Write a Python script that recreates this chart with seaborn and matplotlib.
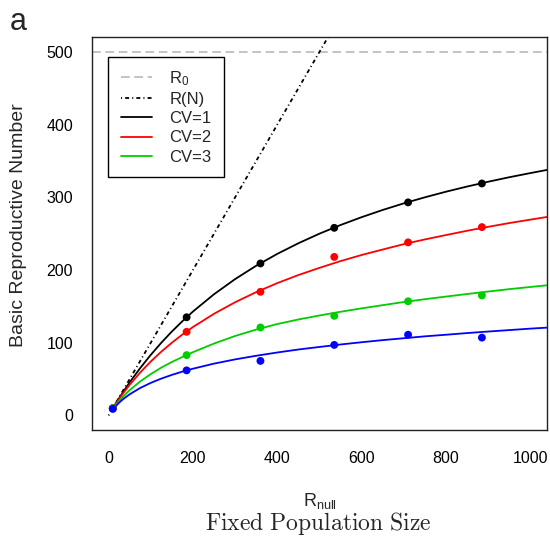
import numpy as np
import pandas as pd
import matplotlib
matplotlib.use("Agg")
import matplotlib.pyplot as plt
import seaborn as sns
from matplotlib.lines import Line2D

# ---------------- data ----------------
point_x = [10, 185, 360, 535, 710, 885]
pts_cv1 = [10, 135, 209, 258, 293, 319]
pts_cv2 = [10, 115, 170, 218, 238, 259]
pts_cv3 = [10, 83, 121, 137, 157, 165]
pts_blue = [9, 62, 75, 97, 111, 107]

curve_x = [10, 25, 35, 50, 75, 100, 125, 150, 175, 200, 250, 300, 350, 400, 450,
           500, 550, 600, 650, 700, 750, 800, 850, 900, 950, 1000, 1040]
curve_cv1 = [9.8, 23.8, 32.7, 45.5, 65.2, 83.3, 100, 115.4, 129.6, 142.9, 166.7, 187.5, 205.9, 222.2,
             236.8, 250, 261.9, 272.7, 282.6, 291.7, 300, 307.7, 314.8, 321.4, 327.6, 333.3, 337.7]
curve_cv2 = [9.6, 22.7, 30.8, 42.1, 59.1, 74.2, 87.7, 100, 111.3, 121.6, 139.8, 155.7, 169.6, 182,
             193.1, 203, 212.3, 220.7, 228.2, 235.6, 242.1, 248.1, 254.0, 259.4, 264.6, 269.3, 273]
curve_cv3 = [8.9, 20.0, 26.3, 34.8, 46.8, 56.9, 65.8, 73.5, 80.4, 87.0, 98.9, 109.3, 118.1, 125.7,
             132.0, 137.5, 142.6, 147.3, 151.7, 156.0, 159.9, 163.5, 167.0, 170.4, 173.7, 176.7, 179.0]
curve_blue = [8.3, 17.6, 22.7, 29.1, 37.8, 44.8, 50.7, 55.8, 60.3, 64.3, 71.3, 77.1, 82.1, 86.6,
              90.7, 94.2, 97.6, 100.7, 103.6, 106.2, 108.8, 111.0, 113.3, 115.4, 117.4, 119.4, 120.8]

rn_x = [0, 1040]
rn_y = [0, 1040]
r0_value = 500

series_names = ["CV=1", "CV=2", "CV=3", "blue"]
series_colors = ["#000000", "#FF0000", "#00CD00", "#0000FF"]
legend_labels = ["R$_0$", "R(N)", "CV=1", "CV=2", "CV=3"]
x_ticks = [0, 200, 400, 600, 800, 1000]
y_ticks = [0, 100, 200, 300, 400, 500]

# ---------------- tables ----------------
curve_df = pd.concat([
    pd.DataFrame({"x": curve_x, "y": ys, "series": name})
    for name, ys in zip(series_names, [curve_cv1, curve_cv2, curve_cv3, curve_blue])
])
pts_df = pd.concat([
    pd.DataFrame({"x": point_x, "y": ys, "series": name})
    for name, ys in zip(series_names, [pts_cv1, pts_cv2, pts_cv3, pts_blue])
])
palette = dict(zip(series_names, series_colors))

# ---------------- style ----------------
sns.set_theme(style="white")
plt.rcParams["font.family"] = ["Liberation Sans", "DejaVu Sans"]
plt.rcParams["mathtext.fontset"] = "custom"
plt.rcParams["mathtext.rm"] = "Liberation Sans"
plt.rcParams["mathtext.it"] = "Liberation Sans:italic"

W, H = 550, 537
fig = plt.figure(figsize=(W / 100, H / 100), dpi=100)
ax = fig.add_axes([91.7 / W, 1 - 430 / H, (547.3 - 91.7) / W, (430 - 37.3) / H])

LW = 1.3
gray = "#BEBEBE"
dash = (0, (4.8, 2.6))
dotdash = (0, (0.6, 1.7, 2.2, 1.7))

ax.axhline(r0_value, color=gray, lw=LW, ls=dash, zorder=1)
ax.plot(rn_x, rn_y, color="black", lw=LW, ls=dotdash, zorder=2)

sns.lineplot(data=curve_df, x="x", y="y", hue="series", palette=palette,
             estimator=None, sort=False, lw=LW, legend=False, ax=ax, zorder=2)
sns.scatterplot(data=pts_df, x="x", y="y", hue="series", palette=palette,
                s=32, linewidth=0, legend=False, ax=ax, zorder=3)

ax.set_xlim(-40, 1040)
ax.set_ylim(-20, 520)
ax.set_xticks(x_ticks)
ax.set_yticks(y_ticks)
ax.set_xlabel("")
ax.set_ylabel("")
for s in ax.spines.values():
    s.set_visible(True)
    s.set_color("#222222")
    s.set_linewidth(1.0)
ax.tick_params(axis="both", direction="out", length=7, width=1.0, color="#222222",
               labelsize=11.5, labelcolor="black")
ax.tick_params(axis="x", pad=8)
ax.tick_params(axis="y", pad=6.5)

handles = [
    Line2D([], [], color=gray, lw=LW, ls=dash),
    Line2D([], [], color="black", lw=LW, ls=dotdash),
    Line2D([], [], color=series_colors[0], lw=LW),
    Line2D([], [], color=series_colors[1], lw=LW),
    Line2D([], [], color=series_colors[2], lw=LW),
]
leg = ax.legend(handles, legend_labels, loc="upper left",
                bbox_to_anchor=((108.3 - 91.7) / (547.3 - 91.7), (430 - 56.7) / (430 - 37.3)),
                borderaxespad=0, frameon=True, fancybox=False, edgecolor="black",
                framealpha=1, fontsize=12, handlelength=1.9, handletextpad=1.0,
                labelspacing=0.25, borderpad=0.75)
leg.get_frame().set_linewidth(1.0)

fig.text(19 / W, 1 - 225 / H, "Basic Reproductive Number", rotation=90,
         ha="center", va="center", fontsize=14)
fig.text(320 / W, 1 - 505.7 / H, r"R$_\mathrm{null}$", ha="center", va="baseline", fontsize=13)
fig.text(318 / W, 1 - 530 / H, r"$\mathrm{Fixed\ Population\ Size}$", ha="center",
         va="baseline", fontsize=17, math_fontfamily="cm")
fig.text(10 / W, 1 - 30 / H, "a", ha="left", va="baseline", fontsize=22)

fig.savefig("out.png", dpi=100)
